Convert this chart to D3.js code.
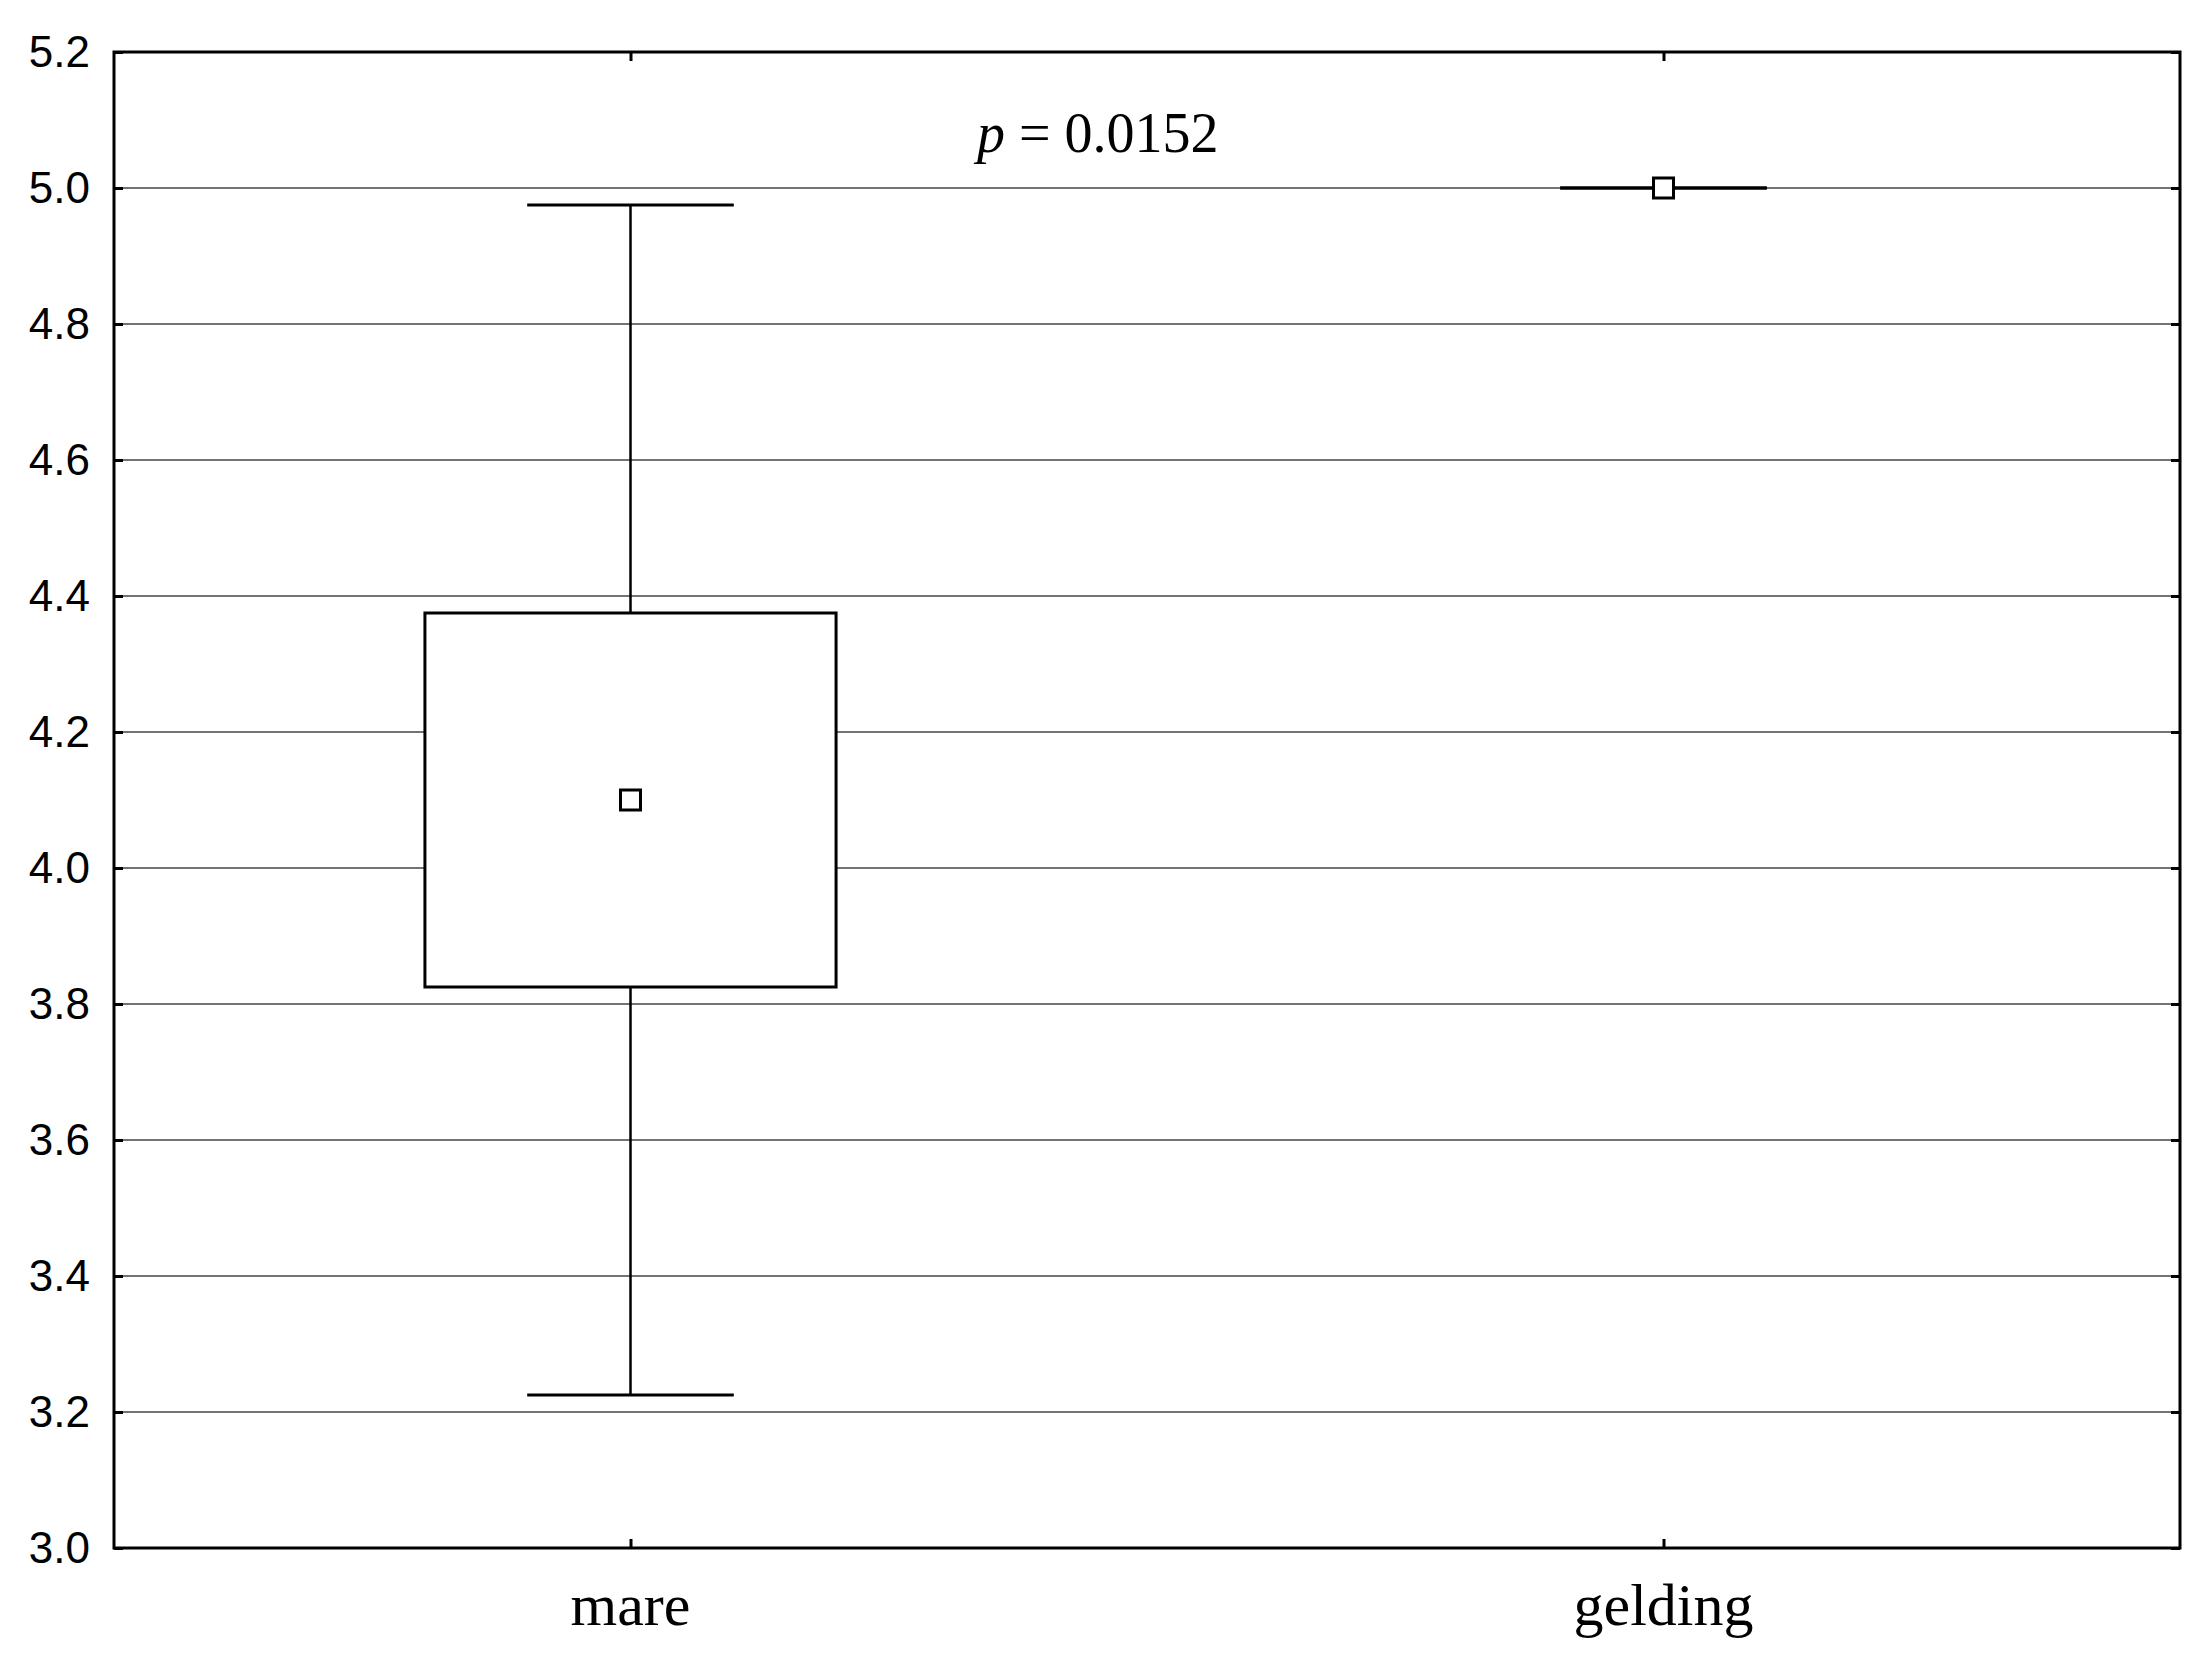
<!DOCTYPE html>
<html>
<head>
<meta charset="utf-8">
<script src="https://cdn.jsdelivr.net/npm/d3@7"></script>
<style>
html,body{margin:0;padding:0;background:#fff;}
svg{display:block;}
</style>
</head>
<body>
<svg id="chart" width="2202" height="1656"></svg>
<script>
// ---- data ----
const categories = ["mare", "gelding"];
const means = [4.1, 5.0];
const boxLow = [3.825, 5.0];
const boxHigh = [4.375, 5.0];
const whiskerLow = [3.225, 5.0];
const whiskerHigh = [4.975, 5.0];
const yTicks = [3.0, 3.2, 3.4, 3.6, 3.8, 4.0, 4.2, 4.4, 4.6, 4.8, 5.0, 5.2];
const annotation = "= 0.0152";

// ---- layout ----
const W = 2202, H = 1656;
const m = {left: 114, right: 2180, top: 52, bottom: 1548};
const svg = d3.select("#chart");

const x = d3.scalePoint().domain(categories).range([m.left, m.right]).padding(0.5);
const y = d3.scaleLinear().domain([3.0, 5.2]).range([m.bottom, m.top]);
const step = x.step();

// gridlines
svg.append("g").selectAll("line")
  .data(yTicks.filter(t => t > 3.0 && t < 5.2))
  .join("line")
  .attr("x1", m.left).attr("x2", m.right)
  .attr("y1", d => y(d)).attr("y2", d => y(d))
  .attr("stroke", "#444").attr("stroke-width", 1.5);

// boxes
const boxHalf = step * 0.199;
const capHalf = step * 0.1;
const g = svg.append("g");
categories.forEach((c, i) => {
  const cx = x(c);
  // whisker vertical
  g.append("line").attr("x1", cx).attr("x2", cx)
    .attr("y1", y(whiskerHigh[i])).attr("y2", y(whiskerLow[i]))
    .attr("stroke", "#000").attr("stroke-width", 2.5);
  // caps
  [whiskerHigh[i], whiskerLow[i]].forEach(v => {
    g.append("line").attr("x1", cx - capHalf).attr("x2", cx + capHalf)
      .attr("y1", y(v)).attr("y2", y(v))
      .attr("stroke", "#000").attr("stroke-width", 3);
  });
  // box
  if (boxHigh[i] > boxLow[i]) {
    g.append("rect").attr("x", cx - boxHalf).attr("y", y(boxHigh[i]))
      .attr("width", 2 * boxHalf).attr("height", y(boxLow[i]) - y(boxHigh[i]))
      .attr("fill", "#fff").attr("stroke", "#000").attr("stroke-width", 3);
  }
  // mean marker
  g.append("rect").attr("x", cx - 10).attr("y", y(means[i]) - 10)
    .attr("width", 20).attr("height", 20)
    .attr("fill", "#fff").attr("stroke", "#000").attr("stroke-width", 3);
});

// frame
svg.append("rect").attr("x", m.left).attr("y", m.top)
  .attr("width", m.right - m.left).attr("height", m.bottom - m.top)
  .attr("fill", "none").attr("stroke", "#000").attr("stroke-width", 3);

// axes
const fontSans = "'Liberation Sans', Arial, sans-serif";
const fontSerif = "'Liberation Serif', 'Times New Roman', serif";

const yAxis = svg.append("g").attr("transform", `translate(${m.left},0)`)
  .call(d3.axisRight(y).tickValues(yTicks).tickSize(9).tickFormat(d3.format(".1f")).tickPadding(-24));
yAxis.select(".domain").remove();
yAxis.selectAll(".tick line").attr("stroke", "#000").attr("stroke-width", 3);
yAxis.selectAll(".tick text").attr("text-anchor", "end").attr("x", -24)
  .style("font-family", fontSans).style("font-size", "44px").attr("fill", "#000");

const yAxisR = svg.append("g").attr("transform", `translate(${m.right},0)`)
  .call(d3.axisLeft(y).tickValues(yTicks).tickSize(9).tickFormat(""));
yAxisR.select(".domain").remove();
yAxisR.selectAll(".tick line").attr("stroke", "#000").attr("stroke-width", 3);

const xAxis = svg.append("g").attr("transform", `translate(0,${m.bottom})`)
  .call(d3.axisTop(x).tickSize(9).tickFormat(""));
xAxis.select(".domain").remove();
xAxis.selectAll(".tick line").attr("stroke", "#000").attr("stroke-width", 3);

const xAxisT = svg.append("g").attr("transform", `translate(0,${m.top})`)
  .call(d3.axisBottom(x).tickSize(9).tickFormat(""));
xAxisT.select(".domain").remove();
xAxisT.selectAll(".tick line").attr("stroke", "#000").attr("stroke-width", 3);

// category labels
svg.append("g").selectAll("text").data(categories).join("text")
  .attr("x", d => x(d)).attr("y", 1625)
  .attr("text-anchor", "middle")
  .style("font-family", fontSerif).style("font-size", "60px")
  .attr("fill", "#000").text(d => d);

// annotation
const t = svg.append("text").attr("x", 977).attr("y", 152)
  .style("font-family", fontSerif).style("font-size", "56px").attr("fill", "#000");
t.append("tspan").style("font-style", "italic").text("p");
t.append("tspan").text(" " + annotation);
</script>
</body>
</html>
